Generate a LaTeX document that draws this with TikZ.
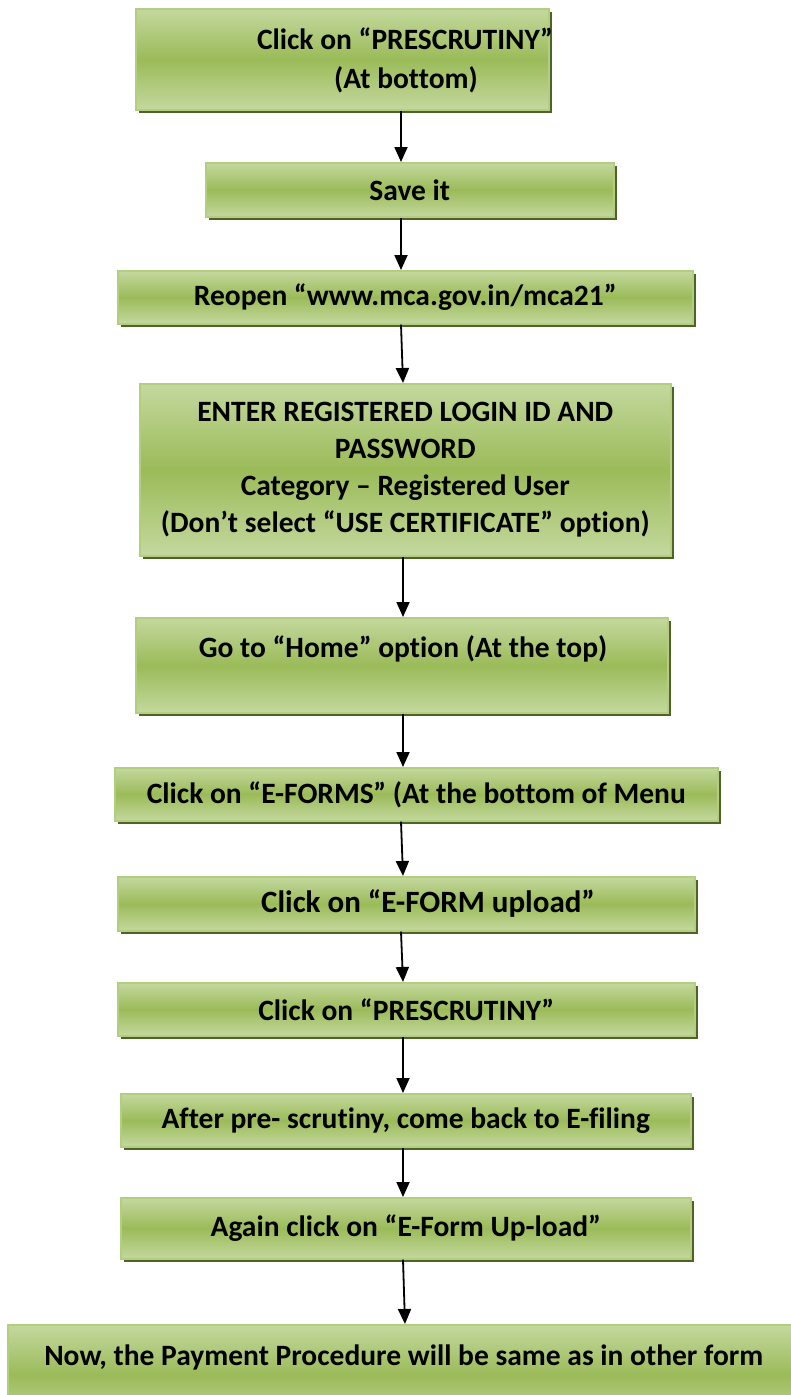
\documentclass[tikz,border=0pt]{standalone}
\usepackage{fontspec}
\setmainfont{Carlito}[Ligatures=NoCommon]
\usetikzlibrary{shadows,arrows.meta}
\definecolor{gtop}{RGB}{196,216,158}
\definecolor{gmid}{RGB}{155,187,89}
\definecolor{gline}{RGB}{178,206,128}
\definecolor{gshadow}{RGB}{79,98,40}
\tikzset{
  boxfont/.style={font=\bfseries\fontsize{29.5}{37}\selectfont},
  flowbox/.style={draw=gline, line width=1.6pt, top color=gtop, bottom color=gtop, middle color=gmid,
    shading=axis, inner sep=0pt, anchor=north west, align=center, boxfont,
    drop shadow={shadow xshift=3.5pt, shadow yshift=-3.5pt, fill=gshadow, opacity=1}},
  boxtext/.style={inner sep=0pt, align=center, boxfont},
  arr/.style={line width=1.8pt, -{Triangle[length=15pt,width=13pt]}}
}
\begin{document}
\begin{tikzpicture}[x=1pt,y=-1pt]
\useasboundingbox (0,0) rectangle (790,1395);
\node[flowbox, minimum width=413pt, minimum height=101pt] (b1) at (135,8) {};
\node[boxtext] (t1a) at (405,39) {Click on “PRESCRUTINY”};
\node[boxtext] (t1b) at (406,80) {(At bottom)};
\node[flowbox, minimum width=408pt, minimum height=54pt] (b2) at (205,162) {Save it};
\node[flowbox, minimum width=575pt, minimum height=53pt] (b3) at (117,270) {Reopen “www.mca.gov.in/mca21”};
\node[flowbox, minimum width=531pt, minimum height=172pt] (b4) at (139,383) {ENTER REGISTERED LOGIN ID AND\\PASSWORD\\Category – Registered User\\(Don’t select “USE CERTIFICATE” option)};
\node[flowbox, minimum width=532pt, minimum height=95pt] (b5) at (135,617) {};
\node[boxtext] (t5) at (403,649) {Go to “Home” option (At the top)};
\node[flowbox, minimum width=603pt, minimum height=53pt] (b6) at (114,767) {Click on “E-FORMS” (At the bottom of Menu};
\node[flowbox, minimum width=577pt, minimum height=54pt] (b7) at (117,876) {};
\node[boxtext, font=\bfseries\fontsize{31}{37}\selectfont] (t7) at (428,903) {Click on “E-FORM upload”};
\node[flowbox, minimum width=577pt, minimum height=53pt] (b8) at (117,982) {Click on “PRESCRUTINY”};
\node[flowbox, minimum width=570pt, minimum height=53pt] (b9) at (120,1093) {After pre- scrutiny, come back to E-filing};
\node[flowbox, minimum width=570pt, minimum height=61pt] (b10) at (120,1197) {Again click on “E-Form Up-load”};
\node[flowbox, minimum width=792pt, minimum height=100pt, text depth=40pt] (b11) at (7,1324) {Now, the Payment Procedure will be same as in other form};
\coordinate (xa) at (401,0);
\coordinate (xb) at (403,0);
\coordinate (xc) at (405,0);
\draw[arr] (b1.south -| xa) -- (b2.north -| xa);
\draw[arr] (b2.south -| xa) -- (b3.north -| xa);
\draw[arr] (b3.south -| xa) -- (b4.north -| xb);
\draw[arr] (b4.south -| xb) -- (b5.north -| xb);
\draw[arr] (b5.south -| xb) -- (b6.north -| xb);
\draw[arr] (b6.south -| xa) -- (b7.north -| xb);
\draw[arr] (b7.south -| xa) -- (b8.north -| xb);
\draw[arr] (b8.south -| xb) -- (b9.north -| xb);
\draw[arr] (b9.south -| xb) -- (b10.north -| xb);
\draw[arr] (b10.south -| xb) -- (b11.north -| xc);
\end{tikzpicture}
\end{document}
